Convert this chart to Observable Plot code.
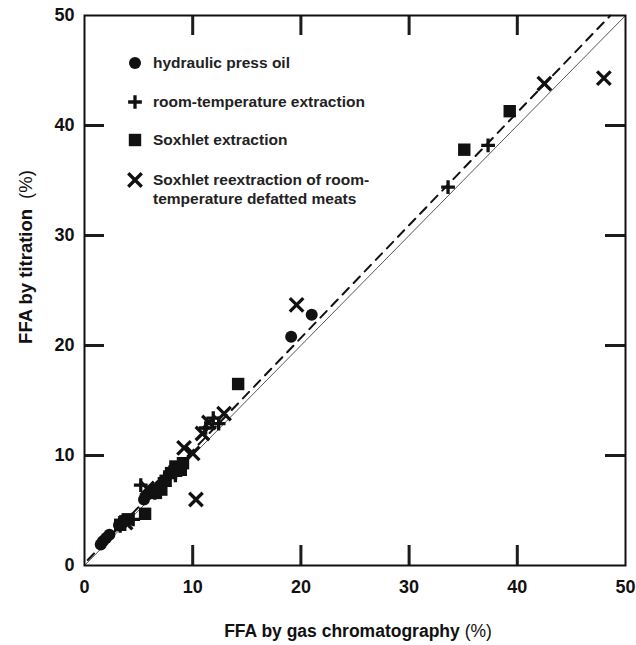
<!DOCTYPE html>
<html><head><meta charset="utf-8">
<script src="https://cdn.jsdelivr.net/npm/d3@7"></script>
<script src="https://cdn.jsdelivr.net/npm/@observablehq/plot@0.6"></script>
<style>body{margin:0;background:#fff;}</style>
</head><body><div id="chart"></div>
<script>
// [FFA by GC (%), FFA by titration (%)]
const pressOil = [[1.5,1.9],[1.7,2.2],[2.0,2.5],[2.3,2.8],[3.2,3.7],[3.6,4.1],[5.5,6.0],[5.9,6.5],[6.3,6.9],[7.0,7.3],[19.1,20.8],[21.0,22.8]];
const roomTemp = [[3.3,3.6],[4.5,4.2],[5.2,7.3],[6.5,6.6],[7.4,7.9],[7.9,8.5],[8.4,8.2],[11.2,12.5],[11.9,13.4],[12.4,12.9],[33.6,34.4],[37.3,38.2]];
const soxhlet = [[3.3,3.7],[4.0,4.2],[5.6,4.7],[6.6,6.6],[7.1,6.9],[7.5,7.7],[8.0,8.4],[8.4,9.0],[8.9,8.7],[9.1,9.3],[14.2,16.5],[35.1,37.8],[39.3,41.3]];
const reextract = [[3.8,3.9],[5.8,7.0],[9.2,10.7],[10.0,10.2],[10.3,6.0],[10.9,12.0],[11.5,13.0],[12.9,13.8],[19.6,23.7],[42.5,43.8],[48.0,44.3]];
const identityLine = [[0,0],[50,50]];
const fitLine = [[0.3,0.5],[48.6,50]];
const tickValues = [0,10,20,30,40,50];
const innerTicks = [10,20,30,40];
const legendLabels = [["hydraulic press oil"],["room-temperature extraction"],["Soxhlet extraction"],["Soxhlet reextraction of room-","temperature defatted meats"]];
const xTitle = ["FFA by gas chromatography", "(%)"];
const yTitle = ["FFA by titration", "(%)"];

const INK = "#111";
const R = {circle:6, plus:4.5, square:7, times:6.2};
const SW = 3.3;
const ML=84, MR=11, MT=15, MB=80, W=636, H=645;
const FW = W-ML-MR, FH = H-MT-MB;
const TL = 20;
const DMAX = 50;
const tyLen = DMAX*TL/FH, txLen = DMAX*TL/FW;

const plot = Plot.plot({
  width: W, height: H,
  marginLeft: ML, marginRight: MR, marginTop: MT, marginBottom: MB,
  x: {domain: [0,DMAX]}, y: {domain: [0,DMAX]},
  style: {fontFamily: "'Liberation Sans', Arial, sans-serif", fontSize: "18px", fontWeight: "bold", color: INK, background: "#fff"},
  marks: [
    Plot.line(identityLine, {x: d=>d[0], y: d=>d[1], stroke: "#444", strokeWidth: 0.9}),
    Plot.line(fitLine, {x: d=>d[0], y: d=>d[1], stroke: INK, strokeWidth: 2, strokeDasharray: "9,7"}),
    Plot.ruleX(innerTicks, {x: d=>d, y1: 0, y2: tyLen, stroke: "#1c1c1c", strokeWidth: 3}),
    Plot.ruleX(innerTicks, {x: d=>d, y1: DMAX - tyLen, y2: DMAX, stroke: "#1c1c1c", strokeWidth: 3}),
    Plot.ruleY(innerTicks, {y: d=>d, x1: 0, x2: txLen, stroke: "#1c1c1c", strokeWidth: 3}),
    Plot.ruleY(innerTicks, {y: d=>d, x1: DMAX - txLen, x2: DMAX, stroke: "#1c1c1c", strokeWidth: 3}),
    Plot.axisX({ticks: tickValues, tickSize: 0, tickPadding: 15, label: null, fill: INK}),
    Plot.axisY({ticks: tickValues, tickSize: 0, tickPadding: 10, label: null, fill: INK}),
    Plot.dot(pressOil, {x: d=>d[0], y: d=>d[1], symbol: "circle", r: R.circle, fill: INK}),
    Plot.dot(soxhlet, {x: d=>d[0], y: d=>d[1], symbol: "square", r: R.square, fill: INK}),
    Plot.dot(roomTemp, {x: d=>d[0], y: d=>d[1], symbol: "plus", r: R.plus, stroke: INK, strokeWidth: SW}),
    Plot.dot(reextract, {x: d=>d[0], y: d=>d[1], symbol: "times", r: R.times, stroke: INK, strokeWidth: SW}),
    Plot.frame({stroke: INK, strokeWidth: 2})
  ]
});
document.getElementById("chart").appendChild(plot);

const svg = d3.select(plot);
// legend
const shapes = [
  {type: d3.symbolCircle, r: R.circle, fill: true},
  {type: d3.symbolPlus, r: R.plus, fill: false},
  {type: d3.symbolSquare, r: R.square, fill: true},
  {type: d3.symbolTimes, r: R.times, fill: false}
];
const legY = [63, 102, 140, 180];
const leg = svg.append("g").attr("text-anchor", "start");
shapes.forEach((s, i) => {
  leg.append("path").attr("transform", `translate(135,${legY[i]})`)
    .attr("d", d3.symbol(s.type, Math.PI*s.r*s.r)())
    .attr("fill", s.fill ? INK : "none").attr("stroke", s.fill ? "none" : INK).attr("stroke-width", SW);
  const t = leg.append("text").attr("x", 153).attr("y", legY[i])
    .attr("text-anchor", "start").attr("font-size", 15.5).attr("font-weight", "bold").attr("fill", "#222");
  legendLabels[i].forEach((line, j) => {
    t.append("tspan").attr("x", 153).attr("dy", j === 0 ? "0.35em" : "1.2em").text(line);
  });
});

// axis titles
const xt = svg.append("text").attr("x", 358).attr("y", 637).attr("text-anchor", "middle").attr("font-size", 17.5).attr("fill", INK);
xt.append("tspan").attr("font-weight", "bold").text(xTitle[0] + " ");
xt.append("tspan").attr("font-weight", "normal").text(xTitle[1]);
const yt = svg.append("text").attr("transform", "translate(32,257) rotate(-90)").attr("text-anchor", "middle").attr("font-size", 18.5).attr("fill", INK);
yt.append("tspan").attr("font-weight", "bold").text(yTitle[0]);
yt.append("tspan").attr("font-weight", "normal").attr("dx", 10).text(yTitle[1]);
</script>
</body></html>
